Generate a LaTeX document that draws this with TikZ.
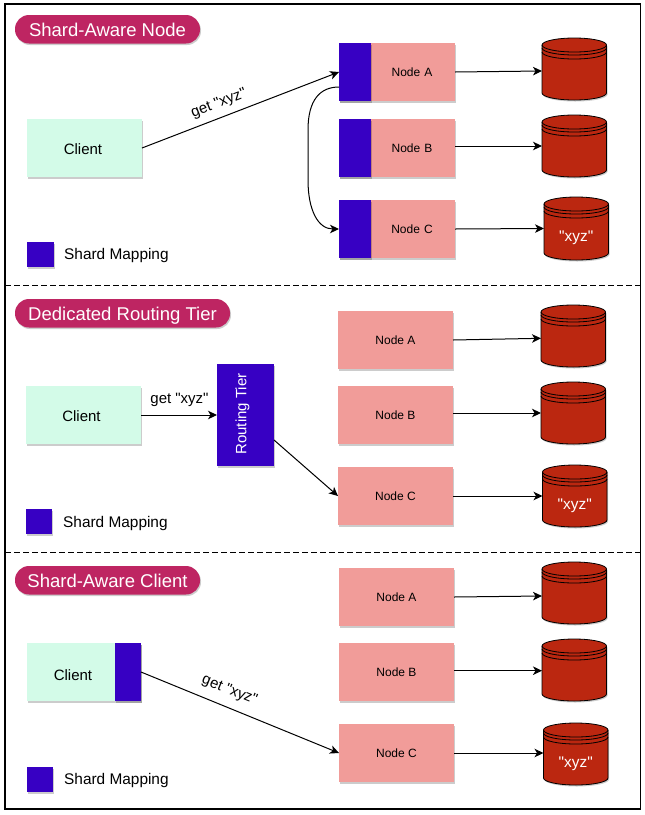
\documentclass[tikz,border=0pt]{standalone}
\usepackage{fontspec}
\setmainfont{Liberation Sans}
\newfontfamily\qfont{Liberation Sans}
\usepackage{tikz}
\usetikzlibrary{arrows.meta,shadows}

\definecolor{titlepink}{HTML}{BE2562}
\definecolor{mintfill}{HTML}{D3FBE8}
\definecolor{nodepink}{HTML}{F19C99}
\definecolor{shardblue}{HTML}{3700C3}
\definecolor{dbred}{HTML}{BB2710}

\tikzset{
  softshadow/.style={drop shadow={shadow xshift=1pt,shadow yshift=-1.5pt,opacity=0.2,fill=black}},
  boxbase/.style={inner sep=0pt,outer sep=0pt,anchor=north west,softshadow},
  clientbox/.style={boxbase,fill=mintfill,minimum width=#1,minimum height=58pt,text height=13pt,text depth=0pt},
  shardbox/.style={boxbase,fill=nodepink,minimum width=#1,minimum height=58pt,font=\fontsize{12}{14}\selectfont},
  blueblock/.style={boxbase,fill=shardblue,minimum width=32pt,minimum height=58pt},
  legendsquare/.style={boxbase,fill=shardblue,minimum width=26pt,minimum height=25pt},
  legendtext/.style={anchor=west,inner sep=0pt,font=\fontsize{15.4}{17}\selectfont},
  titlepill/.style={boxbase,fill=titlepink,rounded corners=14pt,text=white,minimum height=28.5pt,text height=14pt,text depth=0pt,font=\fontsize{18.5}{20}\selectfont},
  linktext/.style={inner sep=0pt,font=\qfont\fontsize{15}{17}\selectfont},
  dbtext/.style={inner sep=0pt,text=white,font=\qfont\fontsize{15.4}{17}\selectfont},
  link/.style={-{Stealth[length=9pt,width=8.5pt,inset=2.5pt]},line width=1pt}
}
% cylinder: name, left, top, bottom
\newcommand{\dbstore}[4]{
  \draw[fill=dbred,line width=0.8pt,softshadow] (#2,#3+7) arc[start angle=180,end angle=360,x radius=32.25pt,y radius=7pt] -- (#2+64.5,#4-7) arc[start angle=0,end angle=180,x radius=32.25pt,y radius=7pt] -- cycle;
  \draw[line width=0.8pt] (#2,#3+7) arc[start angle=180,end angle=0,x radius=32.25pt,y radius=7pt];
  \draw[line width=0.8pt] (#2,#3+10) arc[start angle=180,end angle=0,x radius=32.25pt,y radius=7pt];
  \draw[line width=0.8pt] (#2,#3+14) arc[start angle=180,end angle=0,x radius=32.25pt,y radius=7pt];
  \node[inner sep=0pt,outer sep=0pt,minimum width=64.5pt,minimum height=#4-#3,anchor=north west] (#1) at (#2,#3) {};
}

\begin{document}
\begin{tikzpicture}[x=1pt,y=1pt,yscale=-1,font=\fontsize{15}{17}\selectfont,line cap=butt]
\useasboundingbox (0,0) rectangle (645,815);
\fill[white] (0,0) rectangle (645,815);
\draw[line width=1.5pt] (5,4) rectangle (640.5,809);
\draw[line width=0.9pt,dash pattern=on 5.5pt off 3.5pt] (5,285) -- (640,285);
\draw[line width=0.9pt,dash pattern=on 5.5pt off 3.5pt] (5,552.5) -- (640,552.5);

% first part
\node[titlepill,minimum width=185pt] (titleNode) at (15,15) {Shard-Aware Node};
\node[clientbox=115pt] (clientOne) at (27,119) {\hspace*{-3pt}Client};
\node[legendsquare,minimum width=27pt] (legendOne) at (27,242) {};
\node[legendtext] (legendOneText) at (64,256) {Shard Mapping};
\node[shardbox=116pt,text width=84pt,align=center] (nodeOneA) at (339,43) {\hspace*{30pt}Node A};
\node[shardbox=116pt,text width=84pt,align=center] (nodeOneB) at (339,119) {\hspace*{30pt}Node B};
\node[shardbox=116pt,text width=84pt,align=center] (nodeOneC) at (339,200) {\hspace*{30pt}Node C};
\node[blueblock] (blueA) at (339,43) {};
\node[blueblock] (blueB) at (339,119) {};
\node[blueblock] (blueC) at (339,200) {};
\dbstore{dbOneA}{542}{38}{100}
\dbstore{dbOneB}{542}{115}{177}
\dbstore{dbOneC}{544}{197}{260}
\node[dbtext] (dbOneCtext) at ([yshift=9.5pt]dbOneC.center) {"xyz"};
\coordinate (curveStart) at (339,87);
\draw[link] (clientOne.east) -- (blueA.west);
\draw[link] (curveStart) .. controls (320,87) and (308,100) .. (308,130) -- (308,180) .. controls (308,210) and (318,229) .. (blueC.west);
\draw[link] (nodeOneA.east) -- ([yshift=2pt]dbOneA.west);
\draw[link] ([yshift=-2pt]nodeOneB.east) -- (dbOneB.west);
\draw[link] (nodeOneC.east) -- (dbOneC.west);
\node[linktext,rotate=21] (labelOne) at (219,103.5) {get "xyz"};

% second part
\node[titlepill,minimum width=215pt] (titleTier) at (15,299) {Dedicated Routing Tier};
\node[clientbox=115pt] (clientTwo) at (26,386) {\hspace*{-4pt}Client};
\node[boxbase,fill=shardblue,minimum width=57pt,minimum height=102pt] (routeTier) at (217,364) {};
\node[rotate=90,text=white,inner sep=0pt] (routeText) at (242.5,414) {Routing Tier};
\node[legendsquare] (legendTwo) at (26,509) {};
\node[legendtext] (legendTwoText) at (63,523.5) {Shard Mapping};
\node[shardbox=115pt] (nodeTwoA) at (338,311) {Node A};
\node[shardbox=115pt] (nodeTwoB) at (338,386) {Node B};
\node[shardbox=115pt] (nodeTwoC) at (338,467) {Node C};
\dbstore{dbTwoA}{541}{305}{367}
\dbstore{dbTwoB}{541}{382}{444}
\dbstore{dbTwoC}{542.5}{465}{527}
\node[dbtext] (dbTwoCtext) at ([yshift=9.5pt]dbTwoC.center) {"xyz"};
\coordinate (tierOut) at (274,440);
\draw[link] (clientTwo.east) -- (routeTier.west);
\draw[link] (tierOut) -- (nodeTwoC.west);
\draw[link] (nodeTwoA.east) -- ([yshift=2.3pt]dbTwoA.west);
\draw[link] ([yshift=-2pt]nodeTwoB.east) -- (dbTwoB.west);
\draw[link] (nodeTwoC.east) -- (dbTwoC.west);
\node[linktext] (labelTwo) at (179.5,399.5) {get "xyz"};

% third part
\node[titlepill,minimum width=185pt] (titleClient) at (15,566) {Shard-Aware Client};
\node[clientbox=114pt] (clientThree) at (27,643) {};
\node[boxbase,fill=shardblue,minimum width=26pt,minimum height=58pt] (blueClient) at (115,643) {};
\node[inner sep=0pt] (clientThreeText) at (73,675) {Client};
\node[legendsquare] (legendThree) at (27,767) {};
\node[legendtext] (legendThreeText) at (64,780.5) {Shard Mapping};
\node[shardbox=115pt] (nodeThreeA) at (339,568) {Node A};
\node[shardbox=115pt] (nodeThreeB) at (339,643) {Node B};
\node[shardbox=115pt] (nodeThreeC) at (339,724) {Node C};
\dbstore{dbThreeA}{542}{562}{624}
\dbstore{dbThreeB}{542}{639}{701}
\dbstore{dbThreeC}{543.5}{723}{785}
\node[dbtext] (dbThreeCtext) at ([yshift=9.5pt]dbThreeC.center) {"xyz"};
\draw[link] (blueClient.east) -- (nodeThreeC.west);
\draw[link] (nodeThreeA.east) -- ([yshift=3pt]dbThreeA.west);
\draw[link] ([yshift=-1.3pt]nodeThreeB.east) -- ([yshift=.7pt]dbThreeB.west);
\draw[link] (nodeThreeC.east) -- ([yshift=-1pt]dbThreeC.west);
\node[linktext,rotate=-22] (labelThree) at (229.5,690.5) {get "xyz"};
\end{tikzpicture}
\end{document}
